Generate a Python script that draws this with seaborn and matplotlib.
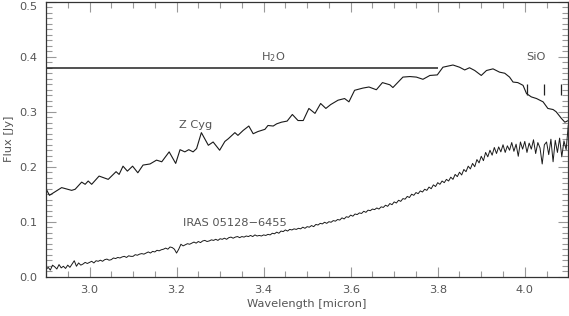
import numpy as np
import pandas as pd
import matplotlib
matplotlib.use("Agg")
import matplotlib.pyplot as plt
from matplotlib.ticker import MultipleLocator, FormatStrFormatter
import seaborn as sns

# Z Cyg spectrum (micron, Jy)
zcyg_wave = [2.900, 2.908, 2.936, 2.959, 2.967, 2.982, 2.990, 2.997, 3.005, 3.022,
             3.043, 3.061, 3.068, 3.077, 3.087, 3.099, 3.111, 3.123, 3.139, 3.154,
             3.166, 3.183, 3.198, 3.208, 3.219, 3.228, 3.238, 3.246, 3.257, 3.273,
             3.284, 3.299, 3.311, 3.319, 3.334, 3.341, 3.353, 3.366, 3.376, 3.387,
             3.403, 3.410, 3.422, 3.430, 3.441, 3.454, 3.466, 3.479, 3.491, 3.504,
             3.518, 3.531, 3.543, 3.554, 3.571, 3.586, 3.596, 3.609, 3.628, 3.642,
             3.659, 3.673, 3.690, 3.697, 3.720, 3.736, 3.751, 3.766, 3.782, 3.799,
             3.812, 3.835, 3.850, 3.862, 3.873, 3.885, 3.900, 3.912, 3.927, 3.942,
             3.954, 3.965, 3.973, 3.984, 3.996, 4.004, 4.015, 4.027, 4.042, 4.053,
             4.065, 4.072, 4.084, 4.092, 4.100]
zcyg_flux = [0.160, 0.148, 0.162, 0.157, 0.159, 0.172, 0.168, 0.174, 0.168, 0.183,
             0.177, 0.191, 0.186, 0.201, 0.192, 0.201, 0.189, 0.203, 0.205, 0.212,
             0.209, 0.227, 0.206, 0.231, 0.227, 0.231, 0.227, 0.233, 0.262, 0.239,
             0.245, 0.230, 0.246, 0.251, 0.262, 0.257, 0.266, 0.274, 0.260, 0.264,
             0.268, 0.275, 0.274, 0.278, 0.281, 0.283, 0.295, 0.284, 0.284, 0.306,
             0.297, 0.315, 0.306, 0.313, 0.321, 0.324, 0.318, 0.339, 0.343, 0.345,
             0.340, 0.353, 0.349, 0.344, 0.363, 0.364, 0.363, 0.359, 0.366, 0.367,
             0.381, 0.385, 0.381, 0.376, 0.380, 0.375, 0.366, 0.375, 0.378, 0.372,
             0.370, 0.363, 0.354, 0.353, 0.348, 0.333, 0.327, 0.324, 0.318, 0.306,
             0.304, 0.300, 0.288, 0.281, 0.284]

# IRAS 05128-6455 spectrum, 0.005 micron steps from 2.900 to 4.100
iras_flux = [
    0.013, 0.017, 0.012, 0.021, 0.018, 0.014, 0.022, 0.016, 0.019, 0.015,
    0.021, 0.017, 0.023, 0.029, 0.019, 0.025, 0.021, 0.023, 0.026, 0.024,
    0.026, 0.028, 0.025, 0.029, 0.028, 0.030, 0.028, 0.031, 0.032, 0.030,
    0.031, 0.034, 0.033, 0.035, 0.034, 0.036, 0.037, 0.035, 0.038, 0.037,
    0.037, 0.040, 0.039, 0.041, 0.042, 0.041, 0.043, 0.045, 0.043, 0.046,
    0.045, 0.048, 0.047, 0.049, 0.050, 0.052, 0.050, 0.054, 0.053, 0.050,
    0.043, 0.050, 0.059, 0.056, 0.058, 0.060, 0.059, 0.061, 0.063, 0.061,
    0.064, 0.062, 0.065, 0.066, 0.064, 0.065, 0.067, 0.066, 0.068, 0.066,
    0.069, 0.068, 0.070, 0.068, 0.071, 0.072, 0.070, 0.072, 0.073, 0.071,
    0.073, 0.072, 0.074, 0.073, 0.075, 0.073, 0.076, 0.074, 0.075, 0.074,
    0.076, 0.075, 0.077, 0.076, 0.079, 0.078, 0.081, 0.079, 0.083, 0.082,
    0.085, 0.083, 0.086, 0.085, 0.087, 0.086, 0.088, 0.087, 0.090, 0.088,
    0.091, 0.090, 0.093, 0.091, 0.095, 0.094, 0.097, 0.096, 0.099, 0.097,
    0.100, 0.099, 0.102, 0.101, 0.104, 0.103, 0.107, 0.105, 0.109, 0.108,
    0.112, 0.110, 0.114, 0.113, 0.116, 0.115, 0.119, 0.117, 0.121, 0.120,
    0.123, 0.122, 0.125, 0.123, 0.127, 0.126, 0.130, 0.128, 0.133, 0.131,
    0.136, 0.134, 0.139, 0.137, 0.142, 0.141, 0.146, 0.144, 0.150, 0.148,
    0.153, 0.151, 0.156, 0.154, 0.159, 0.157, 0.163, 0.160, 0.167, 0.164,
    0.171, 0.168, 0.174, 0.171, 0.177, 0.174, 0.181, 0.177, 0.186, 0.182,
    0.190, 0.185, 0.195, 0.191, 0.201, 0.196, 0.206, 0.200, 0.213, 0.207,
    0.219, 0.211, 0.226, 0.218, 0.230, 0.221, 0.235, 0.224, 0.236, 0.227,
    0.240, 0.226, 0.238, 0.230, 0.244, 0.228, 0.241, 0.219, 0.245, 0.232,
    0.246, 0.226, 0.243, 0.232, 0.249, 0.224, 0.244, 0.234, 0.205, 0.240,
    0.245, 0.222, 0.250, 0.209, 0.248, 0.226, 0.252, 0.218, 0.247, 0.231,
    0.276]
iras_wave = np.round(np.linspace(2.9, 4.1, len(iras_flux)), 3)

# band markers
h2o_range = [2.9, 3.8]
h2o_level = 0.38
sio_heads = [4.004, 4.044, 4.084]
sio_span = [0.330, 0.350]

sns.set_style("ticks")
plt.rcParams["font.family"] = ["DejaVu Sans"]

txt = "#555555"
fig = plt.figure(figsize=(5.69, 3.16), dpi=100)
ax = fig.add_axes([0.0808, 0.1244, 0.918, 0.870])

zc = pd.DataFrame({"wave": zcyg_wave, "flux": zcyg_flux})
ir = pd.DataFrame({"wave": iras_wave, "flux": iras_flux})
sns.lineplot(data=zc, x="wave", y="flux", ax=ax, color="#1a1a1a",
             linewidth=0.8, estimator=None, sort=False)
sns.lineplot(data=ir, x="wave", y="flux", ax=ax, color="#1a1a1a",
             linewidth=0.7, estimator=None, sort=False)

ax.hlines(h2o_level, h2o_range[0], h2o_range[1], color="#222222", linewidth=1.1)
ax.vlines(sio_heads, sio_span[0], sio_span[1], color="#222222", linewidth=0.9)

ax.text(3.421, 0.399, "H$_2$O", color=txt, fontsize=8.2, ha="center", va="center")
ax.text(4.025, 0.399, "SiO", color=txt, fontsize=8.2, ha="center", va="center")
ax.text(3.244, 0.275, "Z Cyg", color=txt, fontsize=8.2, ha="center", va="center")
ax.text(3.335, 0.0975, "IRAS 05128\u22126455", color=txt, fontsize=8.2,
        ha="center", va="center")

ax.set_xlim(2.9, 4.1)
ax.set_ylim(0.0, 0.5)
ax.set_xticks([3.0, 3.2, 3.4, 3.6, 3.8, 4.0])
ax.set_yticks([0.0, 0.1, 0.2, 0.3, 0.4, 0.5])
ax.xaxis.set_minor_locator(MultipleLocator(0.05))
ax.yaxis.set_minor_locator(MultipleLocator(0.01))
ax.xaxis.set_major_formatter(FormatStrFormatter("%.1f"))
ax.yaxis.set_major_formatter(FormatStrFormatter("%.1f"))

ax.tick_params(which="both", direction="in", top=True, right=True,
               color="#999999", width=0.8, labelcolor=txt, labelsize=8.2)
ax.tick_params(which="major", length=7, pad=6)
ax.tick_params(which="minor", length=4)

# keep the top label inside the figure, as in the original
ax.get_yticklabels()[-1].set_verticalalignment("top")

for s in ax.spines.values():
    s.set_color("#333333")
    s.set_linewidth(0.9)

ax.set_xlabel("Wavelength [micron]", color=txt, fontsize=8.2, labelpad=3)
ax.set_ylabel("Flux [Jy]", color=txt, fontsize=8.2, labelpad=4)

fig.savefig("out.png", dpi=100)
